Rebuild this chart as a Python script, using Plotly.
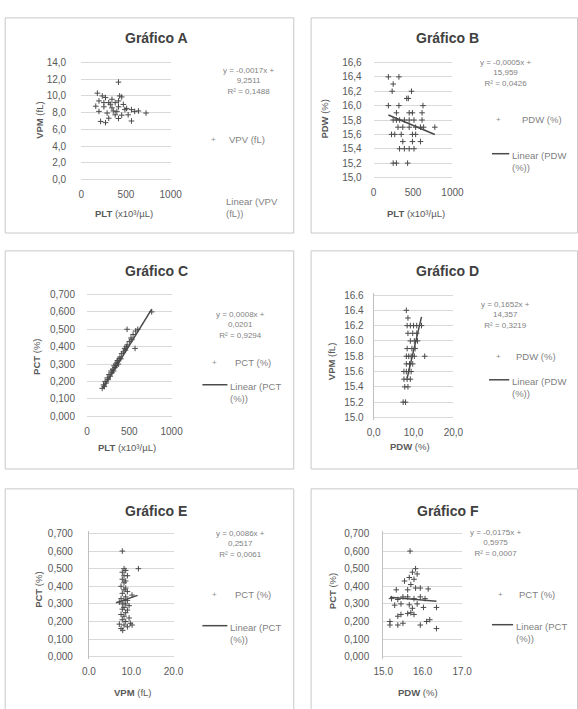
import plotly.graph_objects as go

W, H = 578, 709
FONT = "Liberation Sans"
GRID = "#d9d9d9"
TXT = "#595959"
EQ = "#7f7f7f"
MARK = "#4a4a4a"
BOX = "#c8c8c8"

# ---------------- data ----------------
a_plt = [417, 181, 236, 272, 453, 199, 308, 380, 471, 163, 254, 344, 417, 508, 562, 598, 725, 199,
         290, 380, 453, 525, 308, 417, 217, 272, 562, 359, 326, 417, 489, 399, 254, 344, 640, 430]
a_vpm = [11.65, 10.33, 10.0, 9.8, 9.88, 9.4, 9.2, 9.2, 8.98, 8.77, 8.7, 8.57, 8.7, 8.5, 8.36, 8.15, 7.95, 8.15,
         7.95, 7.74, 7.7, 7.74, 7.33, 7.3, 6.95, 6.8, 7.0, 8.2, 9.0, 9.4, 8.36, 8.15, 9.2, 9.6, 8.2, 10.0]

b_plt = [187, 321, 248, 235, 480, 420, 440, 187, 321, 626, 289, 451, 492, 614,
         248, 289, 330, 390, 451, 512, 614, 309, 370, 451, 533, 594, 634, 776,
         227, 268, 350, 492, 533, 370, 492, 594, 329, 390, 451, 512, 248, 289, 431]
b_pdw = [16.4, 16.4, 16.3, 16.2, 16.2, 16.1, 16.1, 16.0, 16.0, 16.0, 15.9, 15.9, 15.9, 15.9,
         15.8, 15.8, 15.8, 15.8, 15.8, 15.8, 15.8, 15.7, 15.7, 15.7, 15.7, 15.7, 15.7, 15.7,
         15.6, 15.6, 15.6, 15.6, 15.6, 15.5, 15.5, 15.5, 15.4, 15.4, 15.4, 15.4, 15.2, 15.2, 15.2]

c_plt = [180, 195, 205, 215, 225, 240, 250, 260, 275, 285, 295, 305, 315, 320, 330, 340, 350, 355, 360,
         370, 380, 390, 400, 410, 430, 445, 455, 465, 475, 474, 500, 520, 530, 545, 568, 575, 600, 765]
c_pct = [0.16, 0.18, 0.17, 0.20, 0.19, 0.22, 0.21, 0.24, 0.23, 0.26, 0.25, 0.27, 0.26, 0.29, 0.28, 0.30, 0.29, 0.31, 0.32,
         0.30, 0.33, 0.34, 0.33, 0.36, 0.37, 0.39, 0.38, 0.40, 0.41, 0.50, 0.43, 0.45, 0.44, 0.47, 0.39, 0.49, 0.50, 0.60]

d_vpm = [8.2, 8.6, 8.4, 9.2, 10.0, 10.8, 12.0, 8.6, 9.8, 10.8, 9.2, 10.2, 11.0, 8.4, 9.6, 10.4,
         8.2, 8.8, 9.4, 10.2, 12.8, 8.2, 9.0, 9.8, 7.6, 8.2, 8.8, 9.4, 7.6, 8.4, 9.2, 7.8, 8.6, 7.4, 8.0]
d_pdw = [16.4, 16.3, 16.2, 16.2, 16.2, 16.2, 16.2, 16.1, 16.1, 16.1, 16.0, 16.0, 16.0, 15.9, 15.9, 15.9,
         15.8, 15.8, 15.8, 15.8, 15.8, 15.7, 15.7, 15.7, 15.6, 15.6, 15.6, 15.6, 15.5, 15.5, 15.5, 15.4, 15.4, 15.2, 15.2]

e_vpm = [7.9, 11.7, 8.3, 8.7, 7.9, 8.3, 9.1, 7.9, 8.7, 8.3, 7.6, 8.7, 8.3, 9.1, 7.9, 10.2, 8.7, 7.6, 8.3, 9.1,
         7.2, 7.9, 8.7, 9.5, 8.3, 7.9, 9.1, 8.7, 7.6, 8.3, 9.5, 7.9, 8.7, 9.8, 7.2, 8.3, 9.1, 7.6, 10.2, 8.0]
e_pct = [0.60, 0.50, 0.50, 0.49, 0.48, 0.46, 0.46, 0.44, 0.43, 0.42, 0.40, 0.39, 0.38, 0.37, 0.36, 0.35, 0.34, 0.33, 0.32, 0.32,
         0.31, 0.30, 0.30, 0.29, 0.28, 0.27, 0.265, 0.25, 0.24, 0.23, 0.22, 0.21, 0.20, 0.19, 0.185, 0.18, 0.17, 0.16, 0.18, 0.15]

f_pdw = [15.68, 15.82, 15.74, 15.86, 15.66, 15.78, 15.54, 15.70, 15.33, 15.62, 15.82, 15.94, 16.14,
         15.21, 15.37, 15.50, 15.62, 15.78, 15.94, 16.06, 15.45, 15.66, 15.86, 15.29, 16.35, 16.02, 15.74,
         15.45, 15.62, 15.70, 15.37, 15.78, 15.17, 16.10, 16.18, 15.17, 15.50, 15.37, 15.94, 16.35]
f_pct = [0.60, 0.50, 0.48, 0.47, 0.45, 0.44, 0.43, 0.41, 0.38, 0.38, 0.39, 0.39, 0.385,
         0.33, 0.325, 0.34, 0.34, 0.33, 0.34, 0.33, 0.30, 0.295, 0.30, 0.293, 0.28, 0.28, 0.275,
         0.24, 0.245, 0.25, 0.23, 0.24, 0.20, 0.20, 0.21, 0.18, 0.19, 0.18, 0.18, 0.16]

# trend lines (slope, intercept, x-min, x-max); A has no visible line
trend_slope = [None, -0.00046, 0.00079, 0.222, 0.0084, -0.0195]
trend_intercept = [None, 15.956, 0.012, 13.65, 0.252, 0.634]
trend_xmin = [None, 187, 190, 8.4, 6.4, 15.17]
trend_xmax = [None, 776, 765, 12.0, 11.5, 16.35]

# tick values / labels
plt_vals = [0, 500, 1000]
plt_text = ["0", "500", "1000"]
vpm_y_vals = [0, 2, 4, 6, 8, 10, 12, 14]
vpm_y_text = ["0,0", "2,0", "4,0", "6,0", "8,0", "10,0", "12,0", "14,0"]
pdw_y_vals = [15.0, 15.2, 15.4, 15.6, 15.8, 16.0, 16.2, 16.4, 16.6]
pdw_y_text_b = ["15,0", "15,2", "15,4", "15,6", "15,8", "16,0", "16,2", "16,4", "16,6"]
pdw_y_text_d = ["15.0", "15.2", "15.4", "15.6", "15.8", "16.0", "16.2", "16.4", "16.6"]
pct_y_vals = [0, 0.1, 0.2, 0.3, 0.4, 0.5, 0.6, 0.7]
pct_y_text = ["0,000", "0,100", "0,200", "0,300", "0,400", "0,500", "0,600", "0,700"]
x20_vals = [0, 10, 20]
x20_text_d = ["0,0", "10,0", "20,0"]
x20_text_e = ["0.0", "10.0", "20.0"]
pdw_x_vals = [15, 16, 17]
pdw_x_text = ["15.0", "16.0", "17.0"]

titles = ["Gráfico A", "Gráfico B", "Gráfico C", "Gráfico D", "Gráfico E", "Gráfico F"]
x_titles = ["<b>PLT</b> (x10³/µL)", "<b>PLT</b> (x10³/µL)", "<b>PLT</b> (x10³/µL)",
            "<b>PDW</b> (%)", "<b>VPM</b> (fL)", "<b>PDW</b> (%)"]
y_titles = ["<b>VPM</b> (fL)", "<b>PDW</b> (%)", "<b>PCT</b> (%)",
            "<b>VPM</b> (fL)", "<b>PCT</b> (%)", "<b>PCT</b> (%)"]
equations = [["y = -0,0017x +", "9,2511", "R² = 0,1488"],
             ["y = -0,0005x +", "15,959", "R² = 0,0426"],
             ["y = 0,0008x +", "0,0201", "R² = 0,9294"],
             ["y = 0,1652x +", "14,357", "R² = 0,3219"],
             ["y = 0,0086x +", "0,2517", "R² = 0,0061"],
             ["y = -0,0175x +", "0,5975", "R² = 0,0007"]]
series_names = ["VPV (fL)", "PDW (%)", "PCT (%)", "PDW (%)", "PCT (%)", "PCT (%)"]
linear_names = [["Linear (VPV", "(fL))"], ["Linear (PDW", "(%))"], ["Linear (PCT", "(%))"],
                ["Linear (PDW", "(%))"], ["Linear (PCT", "(%))"], ["Linear (PCT", "(%))"]]

xs = [a_plt, b_plt, c_plt, d_vpm, e_vpm, f_pdw]
ys = [a_vpm, b_pdw, c_pct, d_pdw, e_pct, f_pct]
x_ranges = [[0, 1000], [0, 1000], [0, 1000], [0, 20], [0, 20], [15, 17]]
y_ranges = [[0, 14], [15, 16.6], [0, 0.7], [15, 16.6], [0, 0.7], [0, 0.7]]
x_ticks = [(plt_vals, plt_text), (plt_vals, plt_text), (plt_vals, plt_text),
           (x20_vals, x20_text_d), (x20_vals, x20_text_e), (pdw_x_vals, pdw_x_text)]
y_ticks = [(vpm_y_vals, vpm_y_text), (pdw_y_vals, pdw_y_text_b), (pct_y_vals, pct_y_text),
           (pdw_y_vals, pdw_y_text_d), (pct_y_vals, pct_y_text), (pct_y_vals, pct_y_text)]

# ---------------- layout geometry (pixels) ----------------
plot_px = [(74, 167, 60, 178), (378, 460, 60, 176), (80, 168, 294, 416.7),
           (378, 461, 294.5, 418), (82, 170, 535, 659.3), (388, 470, 535, 659.3)]
PAD = 2.5  # extra pixels so the end grid lines are drawn
ystand = [14, 11, 11, 7, 13, 11]
show_yline = [False, False, False, True, True, True]
title_px = [(152, 35), (455, 35), (152, 270), (455, 270), (152, 512), (455, 512)]
ytitle_px = [(30, 118), (326, 117), (28, 357), (335, 362), (30, 592), (336, 593)]
xtitle_px = [(119, 212), (422, 212), (122, 448), (416, 447), (127, 695), (424, 695)]
eq_px = [(248, 79), (515, 71), (240, 325), (515, 315), (240, 546), (505, 545)]
leg_mark_px = [(212, 138), (508, 117), (213, 363), (508, 357), (213, 597), (510, 597)]
leg_text_x = [226, 530, 232, 524, 232, 527]
lin_px = [(None, 222, 199), (501, 520, 152), (200, 227, 385), (498, 520, 380), (200, 227, 628), (501, 524, 627)]
boxes_px = [(-5, 295, 15, 232), (313, 590, 15, 232), (-5, 295, 250, 470),
            (313, 590, 250, 470), (-5, 295, 490, 720), (313, 590, 490, 720)]


def px(x):
    return x / W


def py(y):
    return 1 - y / H


fig = go.Figure()
layout = dict(width=W, height=H, autosize=False, margin=dict(l=0, r=0, t=0, b=0),
              paper_bgcolor="white", plot_bgcolor="white", showlegend=False,
              font=dict(family=FONT, color=TXT, size=10))
annotations = []
shapes = []

for i in range(6):
    k = "" if i == 0 else str(i + 1)
    x0, x1, yt, yb = plot_px[i]
    y0v, y1v = y_ranges[i]
    u = (y1v - y0v) / (yb - yt)
    layout["xaxis" + k] = dict(
        domain=[px(x0), px(x1)], range=x_ranges[i], anchor="y" + k,
        tickvals=x_ticks[i][0], ticktext=x_ticks[i][1], showgrid=False, zeroline=False,
        showline=False, ticks="", ticklabelstandoff=5, tickfont=dict(size=10, color=TXT))
    layout["yaxis" + k] = dict(
        domain=[py(yb + PAD), py(yt - PAD)], range=[y0v - PAD * u, y1v + PAD * u], anchor="x" + k,
        tickvals=y_ticks[i][0], ticktext=y_ticks[i][1], showgrid=True, gridcolor=GRID,
        gridwidth=1, zeroline=False, showline=show_yline[i], linecolor="#bfbfbf",
        ticks="", ticklabelstandoff=ystand[i], tickfont=dict(size=10, color=TXT))
    fig.add_trace(go.Scatter(x=xs[i], y=ys[i], mode="markers", xaxis="x" + k, yaxis="y" + k,
                             marker=dict(symbol="cross-thin", size=4,
                                         line=dict(width=1, color=MARK), color=MARK)))
    if trend_slope[i] is not None:
        tx = [trend_xmin[i], trend_xmax[i]]
        ty = [trend_slope[i] * v + trend_intercept[i] for v in tx]
        fig.add_trace(go.Scatter(x=tx, y=ty, mode="lines", xaxis="x" + k, yaxis="y" + k,
                                 line=dict(color=MARK, width=1.5)))

    bx0, bx1, by0, by1 = boxes_px[i]
    shapes.append(dict(type="rect", xref="paper", yref="paper", x0=px(bx0), x1=px(bx1),
                       y0=py(by1), y1=py(by0), line=dict(color=BOX, width=1), layer="below"))

    tx_, ty_ = title_px[i]
    annotations.append(dict(text="<b>" + titles[i] + "</b>", x=px(tx_), y=py(ty_), xref="paper",
                            yref="paper", showarrow=False, xanchor="center", yanchor="middle",
                            font=dict(size=14, color="#404040")))
    ax_, ay_ = ytitle_px[i]
    annotations.append(dict(text=y_titles[i], x=px(ax_), y=py(ay_), xref="paper", yref="paper",
                            showarrow=False, textangle=-90, xanchor="center", yanchor="middle",
                            font=dict(size=9.5, color=TXT)))
    ax_, ay_ = xtitle_px[i]
    annotations.append(dict(text=x_titles[i], x=px(ax_), y=py(ay_), xref="paper", yref="paper",
                            showarrow=False, xanchor="center", yanchor="middle",
                            font=dict(size=9.5, color=TXT)))
    ex, ey = eq_px[i]
    annotations.append(dict(text="<br>".join(equations[i]), x=px(ex), y=py(ey), xref="paper",
                            yref="paper", showarrow=False, xanchor="center", yanchor="middle",
                            align="center", font=dict(size=8, color=EQ)))
    mx, my = leg_mark_px[i]
    annotations.append(dict(text="+", x=px(mx), y=py(my), xref="paper", yref="paper",
                            showarrow=False, xanchor="center", yanchor="middle",
                            font=dict(size=8, color="#8c8c8c")))
    annotations.append(dict(text=series_names[i], x=px(leg_text_x[i]), y=py(my), xref="paper",
                            yref="paper", showarrow=False, xanchor="left", yanchor="middle",
                            font=dict(size=9.5, color=EQ)))
    lx0, lx1, ly = lin_px[i]
    if lx0 is not None:
        shapes.append(dict(type="line", xref="paper", yref="paper", x0=px(lx0), x1=px(lx1 - 1),
                           y0=py(ly), y1=py(ly), line=dict(color=MARK, width=1.5)))
    annotations.append(dict(text="<br>".join(linear_names[i]), x=px(lx1), y=py(ly - 6),
                            xref="paper", yref="paper", showarrow=False, xanchor="left",
                            yanchor="top", align="left", font=dict(size=9.5, color=EQ)))

layout["annotations"] = annotations
layout["shapes"] = shapes
fig.update_layout(**layout)

fig.write_html("out.html", config={"displayModeBar": False},
               post_script="document.body.style.margin='0';document.body.style.overflow='hidden';")
